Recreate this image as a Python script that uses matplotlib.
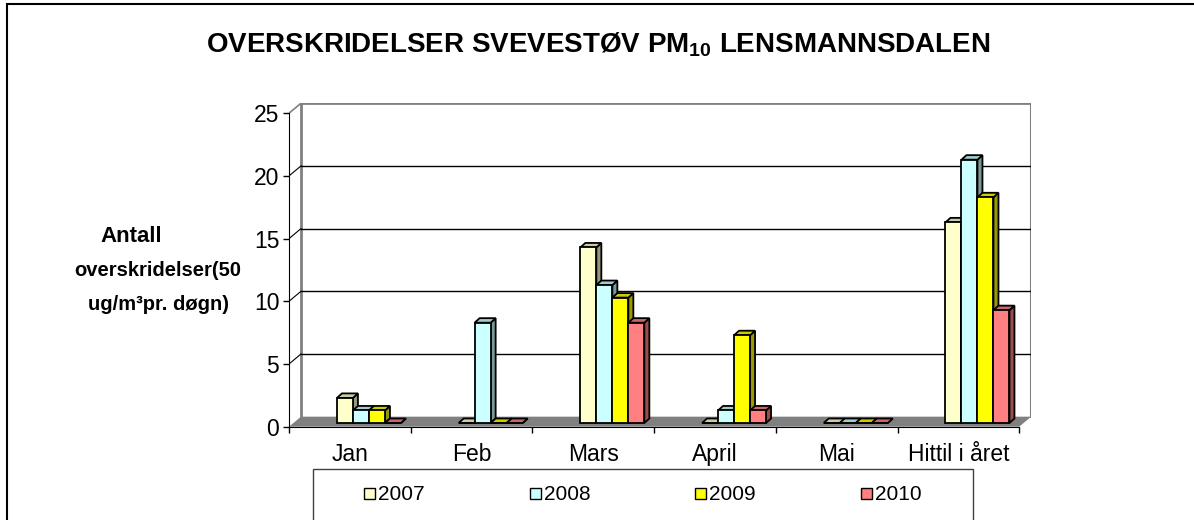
import matplotlib
matplotlib.use("Agg")
import matplotlib.pyplot as plt
from matplotlib.patches import Polygon, Rectangle
from matplotlib.colors import to_rgb

plt.rcParams['font.family'] = ['Liberation Sans', 'DejaVu Sans']
plt.rcParams['mathtext.fontset'] = 'custom'
plt.rcParams['mathtext.rm'] = 'Liberation Sans'
plt.rcParams['mathtext.bf'] = 'Liberation Sans:bold'

# data
categories = ["Jan", "Feb", "Mars", "April", "Mai", "Hittil i året"]
years = ["2007", "2008", "2009", "2010"]
v2007 = [2, 0, 14, 0, 0, 16]
v2008 = [1, 8, 11, 1, 0, 21]
v2009 = [1, 0, 10, 7, 0, 18]
v2010 = [0, 0, 8, 1, 0, 9]
colors = ["#FFFFCC", "#CCFFFF", "#FFFF00", "#FF8080"]
yticks = [0, 5, 10, 15, 20, 25]

series = [v2007, v2008, v2009, v2010]

W, H = 1194, 520
fig = plt.figure(figsize=(W / 100, H / 100), dpi=100)

# pseudo-3d geometry (in data units)
DX, DY = 0.0986, 0.8          # wall depth
BAR_OFF, BAR_W = 0.358, 0.1315
BX, BY = 0.036, 0.295         # bar front offset into depth
BDX, BDY = 0.041, 0.36        # bar depth

ncat = len(categories)
ymax = yticks[-1]

# axes placed in pixels: front axis x=289, y0 at 426.7, back top 103.2
ax = fig.add_axes([289 / W, (H - 426.7) / H, 742.2 / W, (426.7 - 103.2) / H])
ax.set_xlim(0, ncat + DX)
ax.set_ylim(0, ymax + DY)
ax.patch.set_visible(False)
for s in ["top", "right"]:
    ax.spines[s].set_visible(False)
ax.spines["left"].set_bounds(0, ymax)
ax.spines["bottom"].set_bounds(0, ncat)

# floor
ax.add_patch(Polygon([(0, 0), (ncat, 0), (ncat + DX, DY), (DX, DY)],
                     closed=True, fc="#808080", ec="none", zorder=1))

# back wall borders and gridlines
gray = "#808080"
ax.plot([DX, DX], [DY, ymax + DY], color=gray, lw=2, zorder=1)
ax.plot([DX, ncat + DX], [ymax + DY, ymax + DY], color=gray, lw=2, zorder=1)
ax.plot([ncat + DX, ncat + DX], [DY, ymax + DY], color=gray, lw=1.5, zorder=1)
ax.plot([0, DX], [ymax, ymax + DY], color=gray, lw=1.2, zorder=1)
for v in yticks[1:-1]:
    ax.plot([DX, ncat + DX], [v + DY, v + DY], color="black", lw=1, zorder=1)
    ax.plot([0, DX], [v, v + DY], color="black", lw=0.8, zorder=1)

# bars
def shade(c, f):
    r, g, b = to_rgb(c)
    return (r * f, g * f, b * f)

for i in range(ncat):
    for k, vals in enumerate(series):
        h = vals[i]
        x0 = i + BAR_OFF + k * BAR_W + BX
        x1 = x0 + BAR_W
        y0 = BY
        y1 = BY + h
        c = colors[k]
        z = 3 + i * 10 + k
        ax.add_patch(Polygon([(x1, y0), (x1 + BDX, y0 + BDY), (x1 + BDX, y1 + BDY), (x1, y1)],
                             closed=True, fc=shade(c, 0.6), ec="black", lw=1.3, zorder=z))
        ax.add_patch(Polygon([(x0, y1), (x1, y1), (x1 + BDX, y1 + BDY), (x0 + BDX, y1 + BDY)],
                             closed=True, fc=shade(c, 0.8), ec="black", lw=1.3, zorder=z))
        ax.add_patch(Rectangle((x0, y0), BAR_W, h, fc=c, ec="black", lw=1.3, zorder=z))

# axes ticks
ax.set_yticks(yticks)
ax.set_yticklabels([str(t) for t in yticks])
ax.set_xticks(range(ncat + 1))
ax.set_xticklabels([])
ax.set_xticks([i + 0.5 for i in range(ncat)], minor=True)
ax.set_xticklabels(categories, minor=True)
ax.tick_params(axis="y", direction="out", length=4, width=1, pad=3, labelsize=16.5)
ax.tick_params(axis="x", which="major", direction="out", length=4, width=1)
ax.tick_params(axis="x", which="minor", length=0, pad=12, labelsize=16.5)

def px(x, y):
    return x / W, 1 - y / H

# title
fig.text(*px(598, 52), r"OVERSKRIDELSER SVEVESTØV PM$_{\mathbf{10}}$ LENSMANNSDALEN",
         ha="center", va="baseline", fontsize=20, fontweight="bold")

# y label
fig.text(*px(131, 237), "Antall", ha="center", va="center", fontsize=16, fontweight="bold")
fig.text(*px(158, 271), "overskridelser(50", ha="center", va="center", fontsize=14.5, fontweight="bold")
fig.text(*px(158, 305), "ug/m³pr. døgn)", ha="center", va="center", fontsize=14.5, fontweight="bold")

# legend box
fig.patches.append(Rectangle(px(313, 560), (973 - 313) / W, 91 / H, transform=fig.transFigure,
                             fc="white", ec="#404040", lw=1))
leg_x = [369, 535, 700, 866]
for k, yr in enumerate(years):
    fig.patches.append(Rectangle(px(leg_x[k] - 5, 499), 11 / W, 11 / H, transform=fig.transFigure,
                                 fc=colors[k], ec="black", lw=1))
    fig.text(*px(leg_x[k] + 9, 494), yr, ha="left", va="center", fontsize=15)

# outer frame
fig.patches.append(Rectangle(px(7, 600), 1300 / W, 596 / H, transform=fig.transFigure,
                             fc="none", ec="black", lw=1.5))

fig.savefig("out.png", dpi=100)
